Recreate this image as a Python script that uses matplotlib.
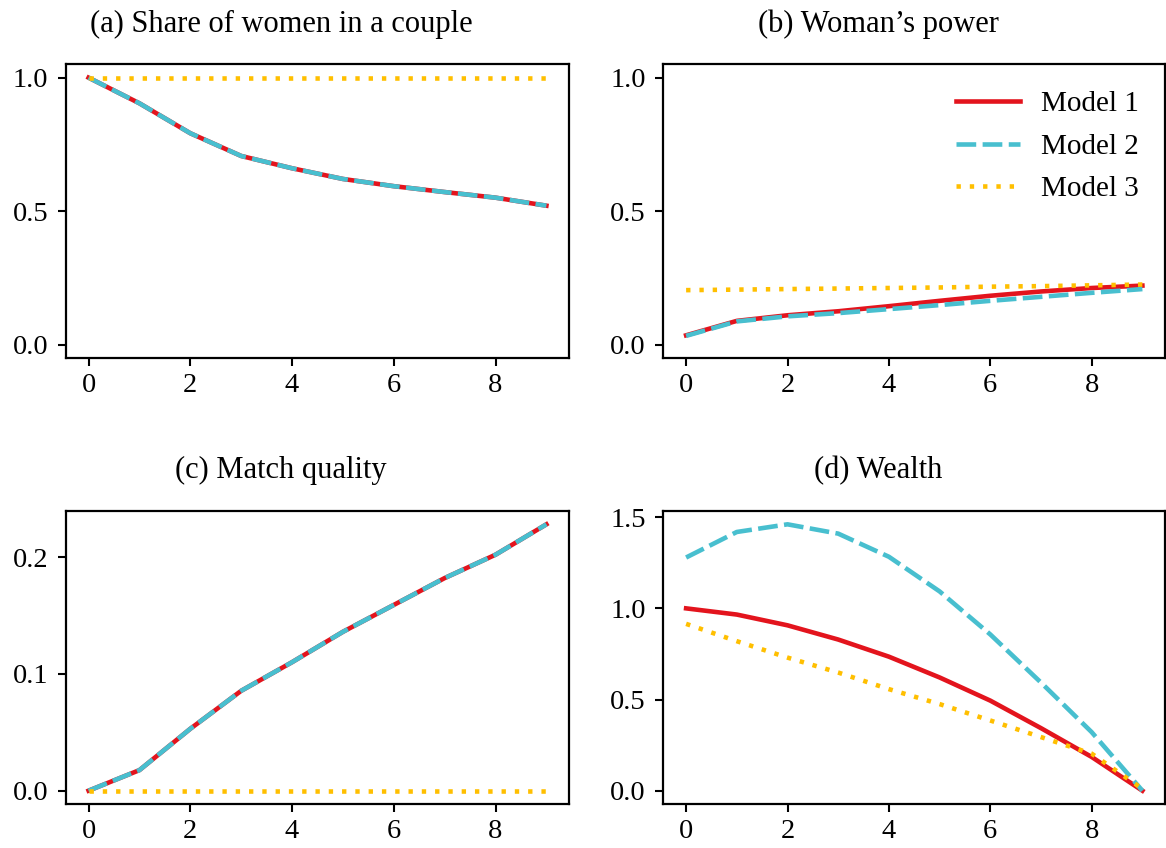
import matplotlib
matplotlib.use("Agg")
import matplotlib.pyplot as plt

plt.rcParams['font.family'] = ['Liberation Serif', 'DejaVu Serif']
plt.rcParams['mathtext.fontset'] = 'stix'

periods = list(range(10))

share_m1 = [1.0, 0.904, 0.792, 0.707, 0.661, 0.621, 0.594, 0.572, 0.551, 0.521]
share_m2 = [1.0, 0.904, 0.792, 0.707, 0.661, 0.621, 0.594, 0.572, 0.551, 0.521]
share_m3 = [1.0, 1.0, 1.0, 1.0, 1.0, 1.0, 1.0, 1.0, 1.0, 1.0]

power_m1 = [0.036, 0.090, 0.111, 0.126, 0.145, 0.165, 0.184, 0.200, 0.213, 0.222]
power_m2 = [0.034, 0.088, 0.107, 0.119, 0.134, 0.149, 0.165, 0.180, 0.195, 0.209]
power_m3 = [0.205, 0.207, 0.209, 0.211, 0.213, 0.215, 0.218, 0.220, 0.223, 0.226]

match_m1 = [0.0, 0.0176, 0.053, 0.0855, 0.110, 0.136, 0.159, 0.182, 0.202, 0.228]
match_m2 = [0.0, 0.0176, 0.053, 0.0855, 0.110, 0.136, 0.159, 0.182, 0.202, 0.228]
match_m3 = [0.0, 0.0, 0.0, 0.0, 0.0, 0.0, 0.0, 0.0, 0.0, 0.0]

wealth_m1 = [1.0, 0.966, 0.907, 0.829, 0.735, 0.621, 0.494, 0.343, 0.185, 0.0]
wealth_m2 = [1.279, 1.419, 1.461, 1.41, 1.283, 1.093, 0.857, 0.593, 0.321, 0.0]
wealth_m3 = [0.915, 0.82, 0.73, 0.648, 0.557, 0.475, 0.385, 0.294, 0.203, 0.01]

titles = ["(a) Share of women in a couple", "(b) Woman\u2019s power",
          "(c) Match quality", "(d) Wealth"]
labels = ["Model 1", "Model 2", "Model 3"]

C1 = "#e3141d"
C2 = "#48bfcf"
C3 = "#ffbf00"

W, H = 1166, 848
fig = plt.figure(figsize=(W / 100, H / 100), dpi=100)

def px_axes(l, t, r, b):
    return fig.add_axes([l / W, 1 - b / H, (r - l) / W, (b - t) / H])

boxes = [(65.7, 64.3, 569.3, 358.3), (663.3, 64.3, 1165.2, 358.3),
         (65.7, 511, 569.3, 804), (663.3, 511, 1165.2, 804)]
data = [(share_m1, share_m2, share_m3), (power_m1, power_m2, power_m3),
        (match_m1, match_m2, match_m3), (wealth_m1, wealth_m2, wealth_m3)]
title_pos = [(281, 31.7), (878.5, 31.7), (281, 478.3), (878.5, 478.3)]

lw = 3.3
for i, (box, (m1, m2, m3)) in enumerate(zip(boxes, data)):
    ax = px_axes(*box)
    ax.plot(periods, m1, color=C1, lw=lw, label=labels[0])
    ax.plot(periods, m2, color=C2, lw=lw, ls=(0, (4.3, 1.4)), label=labels[1])
    ax.plot(periods, m3, color=C3, lw=lw, ls=(0, (0.95, 1.95)), label=labels[2])
    if i < 2:
        ax.set_ylim(-0.05, 1.05)
        ax.set_yticks([0.0, 0.5, 1.0])
    elif i == 2:
        ax.set_yticks([0.0, 0.1, 0.2])
    else:
        ax.set_yticks([0.0, 0.5, 1.0, 1.5])
    ax.set_xticks([0, 2, 4, 6, 8])
    ax.tick_params(axis='both', labelsize=20.5, length=6, width=1.5)
    ax.tick_params(axis='y', pad=6.5)
    ax.tick_params(axis='x', pad=4.5)
    for s in ax.spines.values():
        s.set_linewidth(1.6)
    if i == 1:
        ax.legend(loc='upper right', frameon=False, fontsize=21,
                  handlelength=2.2, handletextpad=0.73, labelspacing=0.56)
    fig.text(title_pos[i][0] / W, 1 - title_pos[i][1] / H, titles[i],
             ha='center', va='baseline', fontsize=22)

fig.savefig("out.png", dpi=100)
